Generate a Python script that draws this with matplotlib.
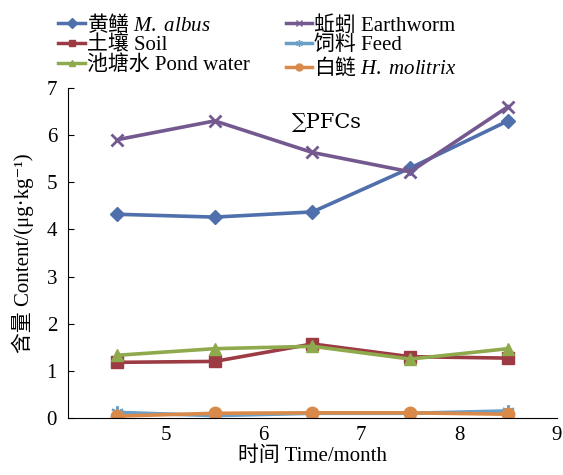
import numpy as np
import matplotlib.pyplot as plt
from matplotlib.lines import Line2D

plt.rcParams['font.family'] = ['Liberation Serif', 'Noto Sans CJK SC', 'DejaVu Sans']
plt.rcParams['mathtext.fontset'] = 'custom'
plt.rcParams['mathtext.rm'] = 'Liberation Serif'
plt.rcParams['mathtext.it'] = 'Liberation Serif:italic'

months = [4.5, 5.5, 6.5, 7.5, 8.5]
albus = [4.32, 4.26, 4.37, 5.30, 6.30]
earthworm = [5.90, 6.30, 5.63, 5.22, 6.60]
soil = [1.18, 1.20, 1.57, 1.30, 1.27]
feed = [0.12, 0.05, 0.10, 0.10, 0.15]
pond = [1.33, 1.47, 1.52, 1.25, 1.47]
molitrix = [0.04, 0.10, 0.11, 0.11, 0.08]

fs = 15
fig = plt.figure(figsize=(5.63, 4.75), dpi=100)
ax = fig.add_axes([0.121, 0.12, 0.868, 0.695])

lw = 2.6
ax.plot(months, feed, color='#6a9fc8', lw=lw, marker=(6, 2, 0), ms=9, mew=1.5, label='饲料 Feed')
ax.plot(months, molitrix, color='#d98a4a', lw=lw, marker='o', ms=9, label='白鲢 $\\it{H.\\ molitrix}$')
ax.plot(months, soil, color='#9c3b44', lw=lw, marker='s', ms=8, label='土壤 Soil')
ax.plot(months, pond, color='#8eaa4c', lw=lw, marker='^', ms=9, label='池塘水 Pond water')
ax.plot(months, albus, color='#4f70ac', lw=lw, marker='D', ms=7, label='黄鳝 $\\it{M.\\ albus}$')
ax.plot(months, earthworm, color='#73598f', lw=lw, marker='x', ms=9, mew=2, label='蚯蚓 Earthworm')

ax.set_xlim(4, 9)
ax.set_ylim(0, 7)
ax.set_xticks([5, 6, 7, 8, 9])
ax.set_yticks(range(0, 8))
ax.tick_params(axis='x', length=0, labelsize=fs, pad=6)
ax.tick_params(axis='y', direction='in', length=4, labelsize=fs, pad=8)
for s in ['top', 'right']:
    ax.spines[s].set_visible(False)
ax.set_xlabel('时间 Time/month', fontsize=fs, labelpad=1)
ax.set_ylabel('含量 Content/(μg·kg⁻¹)', fontsize=fs, labelpad=9)
ax.text(6.65, 6.26, '∑PFCs', fontsize=fs, ha='center', va='center',
        family=['DejaVu Serif', 'Liberation Serif'])

h = {l.get_label(): l for l in ax.get_lines()}
order = ['黄鳝 $\\it{M.\\ albus}$', '土壤 Soil', '池塘水 Pond water',
         '蚯蚓 Earthworm', '饲料 Feed', '白鲢 $\\it{H.\\ molitrix}$']
handles = [Line2D([], [], color=h[k].get_color(), lw=2.5, marker=h[k].get_marker(), ms=5)
           for k in order]
leg = fig.legend(handles, order, loc='upper left', bbox_to_anchor=(0.078, 1.006), ncol=2,
                 frameon=False, fontsize=fs, handlelength=1.25, handletextpad=0.1,
                 columnspacing=1.75, labelspacing=0.0, borderpad=0.2)
for t in leg.get_texts():
    if '$' in t.get_text():
        t.set_fontfamily(['Noto Sans CJK SC'])

fig.savefig('out.png', dpi=100)
